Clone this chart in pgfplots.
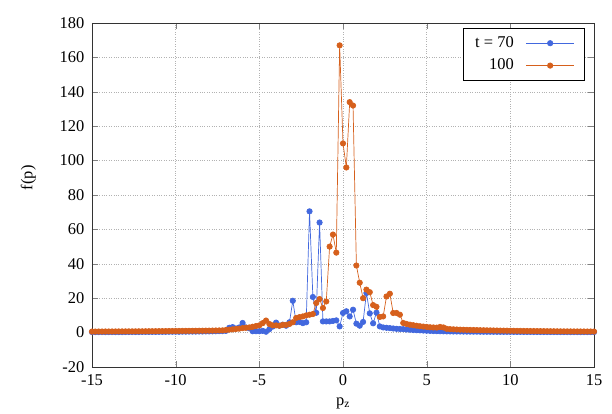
\documentclass[border=0pt]{standalone}
\usepackage{fontspec}
\setmainfont{Liberation Serif}
\usepackage{pgfplots}
\pgfplotsset{compat=1.18}
\definecolor{cblue}{RGB}{66,104,222}
\definecolor{corange}{RGB}{214,96,28}
\begin{document}
\fontsize{16.5}{19}\selectfont
\begin{tikzpicture}
\begin{axis}[
  at={(0,0)}, anchor=south west,
  scale only axis, width=502bp, height=344bp,
  xmin=-15, xmax=15, ymin=-20, ymax=180,
  xtick={-15,-10,...,15}, ytick={-20,0,...,180},
  /pgf/number format/assume math mode=true,
  tick label style={font=\fontsize{16.5}{19}\selectfont},
  xticklabel style={yshift=-2bp},
  yticklabel style={xshift=-2bp},
  tick align=inside, major tick length=6bp,
  xtick pos=both, ytick pos=both,
  grid=major, major grid style={dotted, gray!60, line width=0.5pt},
  axis line style={line width=0.9pt, black!80},
  xlabel={p\textsubscript{z}}, ylabel={f(p)},
  xlabel style={at={(axis description cs:0.5,-0.105)}, anchor=center},
  ylabel style={at={(axis description cs:-0.127,0.55)}, anchor=center, rotate=0},
  legend plot pos=right,
  legend cell align=right,
  legend style={at={(rel axis cs:0.982,0.985)}, anchor=north east, draw=black, line width=0.7pt,
    font=\fontsize{16.5}{19}\selectfont, row sep=5bp, column sep=10bp, inner xsep=10bp, inner ysep=6bp},
  legend image code/.code={\draw[mark repeat=2,mark phase=2,#1] plot coordinates {(0cm,0cm) (0.85cm,0cm) (1.7cm,0cm)};},
]
\addplot[color=cblue, line width=0.7pt, mark=*, mark size=2.7bp, mark options={solid}] coordinates {
(-15,0.3)(-14.8,0.3)(-14.6,0.3)(-14.4,0.3)(-14.2,0.3)(-14,0.3)(-13.8,0.3)(-13.6,0.3)(-13.4,0.3)(-13.2,0.3)
(-13,0.35)(-12.8,0.35)(-12.6,0.35)(-12.4,0.35)(-12.2,0.35)(-12,0.4)(-11.8,0.4)(-11.6,0.4)(-11.4,0.4)(-11.2,0.4)
(-11,0.45)(-10.8,0.45)(-10.6,0.45)(-10.4,0.5)(-10.2,0.5)(-10,0.5)(-9.8,0.5)(-9.6,0.55)(-9.4,0.55)(-9.2,0.6)
(-9,0.6)(-8.8,0.6)(-8.6,0.65)(-8.4,0.65)(-8.2,0.7)(-8,0.7)(-7.8,0.75)(-7.6,0.8)(-7.4,0.85)(-7.2,0.9)
(-7,1.0)(-6.8,2.8)(-6.6,3.2)(-6.4,2.4)(-6.2,3.0)(-6,5.6)(-5.8,3.0)(-5.6,2.5)(-5.4,0.8)(-5.2,0.8)
(-5,0.8)(-4.8,1.0)(-4.6,0.5)(-4.4,2.0)(-4.2,3.5)(-4,5.8)(-3.8,4.0)(-3.6,4.6)(-3.4,4.0)(-3.2,6.0)
(-3,18.5)(-2.8,6.0)(-2.6,6.2)(-2.4,5.5)(-2.2,6.0)(-2,70.5)(-1.8,20.7)(-1.6,11.5)(-1.4,64)(-1.2,6.5)
(-1,6.5)(-0.8,6.5)(-0.6,6.8)(-0.4,7.1)(-0.2,3.6)(0,11.4)(0.2,12.4)(0.4,9.4)(0.6,13.3)(0.8,5.2)
(1,4.0)(1.2,6.2)(1.4,23)(1.6,11.2)(1.8,5.4)(2,11.6)(2.2,3.6)(2.4,3.0)(2.6,2.8)(2.8,2.6)
(3,2.4)(3.2,2.2)(3.4,2.1)(3.6,2.0)(3.8,1.8)(4,1.7)(4.2,1.5)(4.4,1.4)(4.6,1.3)(4.8,1.2)
(5,1.1)(5.2,1.0)(5.4,0.9)(5.6,0.85)(5.8,0.8)(6,0.75)(6.2,0.7)(6.4,0.68)(6.6,0.66)(6.8,0.64)
(7,0.62)(7.2,0.6)(7.4,0.58)(7.6,0.56)(7.8,0.55)(8,0.54)(8.2,0.52)(8.4,0.5)(8.6,0.5)(8.8,0.48)
(9,0.47)(9.2,0.46)(9.4,0.45)(9.6,0.44)(9.8,0.43)(10,0.42)(10.2,0.41)(10.4,0.4)(10.6,0.4)(10.8,0.39)
(11,0.38)(11.2,0.38)(11.4,0.37)(11.6,0.36)(11.8,0.36)(12,0.35)(12.2,0.35)(12.4,0.34)(12.6,0.34)(12.8,0.33)
(13,0.33)(13.2,0.32)(13.4,0.32)(13.6,0.31)(13.8,0.31)(14,0.3)(14.2,0.3)(14.4,0.3)(14.6,0.3)(14.8,0.3)(15,0.3)
};
\addlegendentry{t = 70}
\addplot[color=corange, line width=0.7pt, mark=*, mark size=2.7bp, mark options={solid}] coordinates {
(-15,0.6)(-14.8,0.6)(-14.6,0.62)(-14.4,0.63)(-14.2,0.64)(-14,0.65)(-13.8,0.66)(-13.6,0.67)(-13.4,0.68)(-13.2,0.69)
(-13,0.7)(-12.8,0.71)(-12.6,0.72)(-12.4,0.73)(-12.2,0.74)(-12,0.75)(-11.8,0.77)(-11.6,0.79)(-11.4,0.8)(-11.2,0.82)
(-11,0.84)(-10.8,0.86)(-10.6,0.88)(-10.4,0.9)(-10.2,0.92)(-10,0.94)(-9.8,0.96)(-9.6,0.98)(-9.4,1.0)(-9.2,1.02)
(-9,1.04)(-8.8,1.06)(-8.6,1.08)(-8.4,1.1)(-8.2,1.12)(-8,1.15)(-7.8,1.18)(-7.6,1.22)(-7.4,1.26)(-7.2,1.3)
(-7,1.5)(-6.8,1.7)(-6.6,1.9)(-6.4,2.1)(-6.2,2.3)(-6,2.6)(-5.8,2.8)(-5.6,3.0)(-5.4,3.4)(-5.2,3.8)
(-5,4.2)(-4.8,5.5)(-4.6,7.0)(-4.4,5.0)(-4.2,4.2)(-4,4.2)(-3.8,4.0)(-3.6,4.5)(-3.4,4.5)(-3.2,5.0)
(-3,6.0)(-2.8,8.5)(-2.6,9.0)(-2.4,9.4)(-2.2,10.0)(-2,10.4)(-1.8,10.8)(-1.6,17.2)(-1.4,19.5)(-1.2,14.3)
(-1,18.1)(-0.8,50)(-0.6,57)(-0.4,46.5)(-0.2,167)(0,110)(0.2,96)(0.4,134)(0.6,132)(0.8,39)
(1,29)(1.2,20)(1.4,25)(1.6,23.5)(1.8,16)(2,15)(2.2,9.1)(2.4,9.4)(2.6,21)(2.8,22.6)
(3,11.4)(3.2,11.4)(3.4,10.4)(3.6,5.6)(3.8,5.0)(4,4.6)(4.2,4.3)(4.4,4.0)(4.6,3.7)(4.8,3.5)
(5,3.3)(5.2,3.1)(5.4,3.0)(5.6,2.9)(5.8,3.3)(6,3.0)(6.2,2.2)(6.4,2.0)(6.6,1.9)(6.8,1.8)
(7,1.7)(7.2,1.65)(7.4,1.6)(7.6,1.55)(7.8,1.5)(8,1.45)(8.2,1.4)(8.4,1.36)(8.6,1.32)(8.8,1.28)
(9,1.24)(9.2,1.2)(9.4,1.16)(9.6,1.13)(9.8,1.1)(10,1.07)(10.2,1.04)(10.4,1.01)(10.6,0.98)(10.8,0.95)
(11,0.93)(11.2,0.91)(11.4,0.89)(11.6,0.87)(11.8,0.85)(12,0.83)(12.2,0.81)(12.4,0.79)(12.6,0.77)(12.8,0.75)
(13,0.73)(13.2,0.72)(13.4,0.7)(13.6,0.69)(13.8,0.68)(14,0.67)(14.2,0.66)(14.4,0.65)(14.6,0.64)(14.8,0.63)(15,0.62)
};
\addlegendentry{100}
\end{axis}
\pgfresetboundingbox
\path (-92bp,-47bp) rectangle (520bp,367bp);
\end{tikzpicture}
\end{document}
